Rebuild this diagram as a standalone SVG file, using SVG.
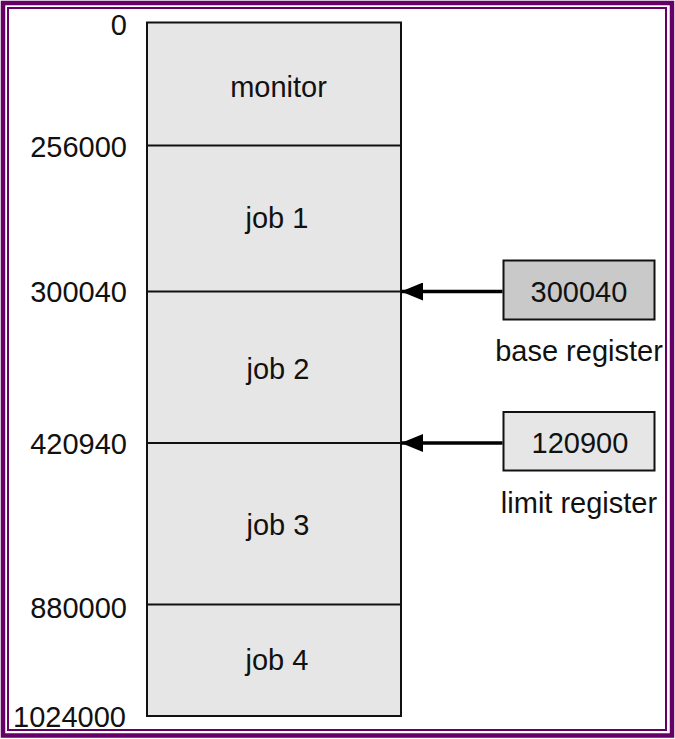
<svg xmlns="http://www.w3.org/2000/svg" width="675" height="739" viewBox="0 0 675 739">
<defs>
<style>
text{font-family:"Liberation Sans",Arial,Helvetica,sans-serif;font-size:29px;fill:#111}
.addr{text-anchor:end}
.mid{text-anchor:middle}
.seg{fill:#e6e6e6;stroke:#111;stroke-width:2}
.div{stroke:#111;stroke-width:2}
.conn{stroke:#000;stroke-width:3.5;fill:none}
.reg{stroke:#111;stroke-width:2}
</style>
<marker id="ah" markerWidth="22" markerHeight="18" refX="22" refY="9" orient="auto" markerUnits="userSpaceOnUse">
<path d="M0,0 L22,9 L0,18 Z" fill="#000"/>
</marker>
</defs>
<rect width="675" height="739" fill="#fff"/>
<rect x="3" y="3" width="669" height="732.5" fill="none" stroke="#660066" stroke-width="4.5"/>
<rect x="8" y="8" width="658" height="722" fill="none" stroke="#660066" stroke-width="2"/>

<g id="memory">
<rect class="seg" x="147" y="22.5" width="254" height="693.5"/>
<line class="div" x1="147" y1="145.5" x2="401" y2="145.5"/>
<line class="div" x1="147" y1="291.5" x2="401" y2="291.5"/>
<line class="div" x1="147" y1="443" x2="401" y2="443"/>
<line class="div" x1="147" y1="604.5" x2="401" y2="604.5"/>
</g>

<g id="monitor"><text class="mid" x="278.5" y="97">monitor</text></g>
<g id="job1"><text class="mid" x="277" y="228">job 1</text></g>
<g id="job2"><text class="mid" x="278" y="379">job 2</text></g>
<g id="job3"><text class="mid" x="278" y="535">job 3</text></g>
<g id="job4"><text class="mid" x="277" y="670">job 4</text></g>

<g id="addresses">
<text class="addr" x="127" y="35">0</text>
<text class="addr" x="127" y="157">256000</text>
<text class="addr" x="127" y="302">300040</text>
<text class="addr" x="127" y="454">420940</text>
<text class="addr" x="127" y="618">880000</text>
<text class="addr" x="126" y="727">1024000</text>
</g>

<g id="base-register">
<rect class="reg" x="503.5" y="260.5" width="151" height="59" fill="#c9c9c9"/>
<text class="mid" x="579" y="302">300040</text>
<text class="mid" x="579" y="361">base register</text>
</g>

<g id="limit-register">
<rect class="reg" x="503.5" y="412" width="151" height="58.5" fill="#e6e6e6"/>
<text class="mid" x="580" y="453">120900</text>
<text class="mid" x="579" y="513">limit register</text>
</g>

<g id="connectors">
<line class="conn" x1="502.5" y1="291.5" x2="401" y2="291.5" marker-end="url(#ah)"/>
<line class="conn" x1="502.5" y1="443" x2="401" y2="443" marker-end="url(#ah)"/>
</g>
</svg>
